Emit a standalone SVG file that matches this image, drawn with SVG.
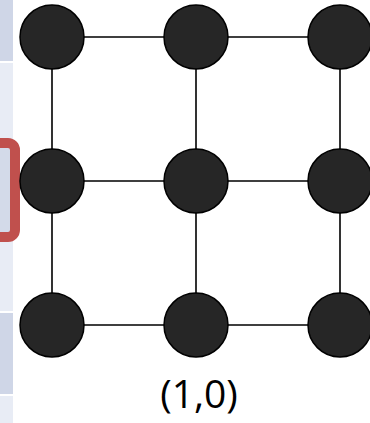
<svg xmlns="http://www.w3.org/2000/svg" width="370" height="423" viewBox="0 0 370 423">
<style>
.dk{fill:#cfd6e7}
.lt{fill:#e8ecf5}
.node{fill:#262626;stroke:#000;stroke-width:1.5}
.edge{stroke:#000;stroke-width:1.6;fill:none}
.lbl{font-family:"Open Sans","Liberation Sans",sans-serif;font-size:39px;fill:#000}
</style>
<rect width="370" height="423" fill="#fff"/>
<g id="stripes">
<rect class="dk" x="0" y="0" width="13" height="61"/>
<rect class="lt" x="0" y="63" width="13" height="248"/>
<rect class="dk" x="0" y="313" width="13" height="81"/>
<rect class="lt" x="0" y="396" width="13" height="27"/>
</g>
<g id="highlight">
<rect x="-20" y="143" width="35" height="94" rx="7" fill="#d3dae9" stroke="#c0504d" stroke-width="10"/>
</g>
<g id="connectors">
<path class="edge" d="M52 37H340M52 181H340M52 325H340M52 37V325M196 37V325M340 37V325"/>
</g>
<g id="n00"><circle class="node" cx="52" cy="37" r="32"/></g>
<g id="n01"><circle class="node" cx="196" cy="37" r="32"/></g>
<g id="n02"><circle class="node" cx="340" cy="37" r="32"/></g>
<g id="n10"><circle class="node" cx="52" cy="181" r="32"/></g>
<g id="n11"><circle class="node" cx="196" cy="181" r="32"/></g>
<g id="n12"><circle class="node" cx="340" cy="181" r="32"/></g>
<g id="n20"><circle class="node" cx="52" cy="325" r="32"/></g>
<g id="n21"><circle class="node" cx="196" cy="325" r="32"/></g>
<g id="n22"><circle class="node" cx="340" cy="325" r="32"/></g>
<g id="label"><text class="lbl" x="199" y="408" text-anchor="middle">(1,0)</text></g>
</svg>
